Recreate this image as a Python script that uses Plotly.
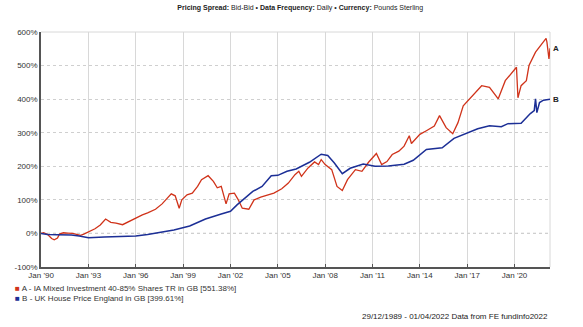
import plotly.graph_objects as go

# Series A - IA Mixed Investment 40-85% Shares TR in GB (cumulative %)
a_dates = ["1989-12-29","1990-03-01","1990-06-01","1990-09-01","1990-11-01","1991-01-15","1991-03-01","1991-06-01",
           "1991-09-01","1992-01-01","1992-04-01","1992-07-01","1992-09-15","1993-01-01","1993-06-01","1993-10-01",
           "1994-02-01","1994-06-01","1994-10-01","1995-03-01","1995-08-01","1996-01-01","1996-06-01","1996-10-01",
           "1997-04-01","1997-09-01","1997-12-01","1998-04-01","1998-07-01","1998-10-01","1998-12-01","1999-04-01",
           "1999-08-01","1999-12-01","2000-03-01","2000-08-01","2000-12-01","2001-03-01","2001-06-01","2001-09-20",
           "2001-12-01","2002-04-01","2002-07-01","2002-10-01","2003-03-01","2003-07-01","2003-12-01","2004-06-01",
           "2004-10-01","2005-04-01","2005-09-01","2006-02-01","2006-05-01","2006-07-01","2006-12-01","2007-05-01",
           "2007-08-01","2007-10-01","2008-01-01","2008-06-01","2008-10-01","2009-02-01","2009-06-01","2009-12-01",
           "2010-05-01","2010-10-01","2011-04-01","2011-08-01","2011-12-01","2012-04-01","2012-09-01","2013-01-01",
           "2013-05-01","2013-06-20","2014-01-01","2014-06-01","2014-12-01","2015-04-01","2015-09-01","2016-02-01",
           "2016-06-01","2016-10-01","2017-05-01","2017-12-01","2018-06-01","2018-12-20","2019-06-01","2019-12-01",
           "2020-02-15","2020-03-20","2020-06-01","2020-10-01","2020-12-01","2021-05-01","2021-10-01","2021-12-31",
           "2022-01-20","2022-02-15","2022-03-08","2022-04-01"]
a_vals = [0,2,-3,-15,-19,-14,-2,2,
          1,0,-3,-6,-2,4,14,25,
          43,33,31,26,36,45,55,61,
          72,88,100,118,112,75,100,115,
          120,140,160,172,155,136,140,88,
          118,120,100,75,72,100,108,115,
          120,133,150,175,185,170,195,213,
          205,220,205,190,140,128,160,190,
          185,212,238,205,214,235,245,260,
          291,268,295,306,320,351,315,297,
          330,380,410,440,435,401,455,485,
          495,404,440,455,500,540,565,581,
          570,545,520,551.38]

# Series B - UK House Price England in GB (cumulative %)
b_dates = ["1989-12-29","1990-06-01","1991-01-01","1991-12-01","1992-06-01","1993-01-01","1994-01-01","1995-01-01",
           "1996-01-01","1996-10-01","1997-06-01","1998-06-01","1999-06-01","2000-06-01","2001-06-01","2002-01-01",
           "2002-06-01","2003-01-01","2003-06-01","2004-01-01","2004-08-01","2005-01-01","2005-08-01","2006-03-01",
           "2007-01-01","2007-10-01","2008-03-01","2008-08-01","2009-02-01","2009-08-01","2010-06-01","2011-03-01",
           "2012-01-01","2013-01-01","2013-08-01","2014-06-01","2015-06-01","2016-03-01","2017-01-01","2017-09-01",
           "2018-06-01","2019-03-01","2019-08-01","2020-06-01","2021-01-01","2021-04-01","2021-05-01","2021-06-01",
           "2021-08-01","2021-11-01","2022-04-01"]
b_vals = [0,-3,-4,-5,-8,-13,-11,-10,
          -8,-3,2,10,22,43,58,66,
          85,110,125,140,172,173,185,192,
          212,236,232,210,178,194,207,200,
          201,206,218,250,255,283,300,312,
          321,318,327,328,357,366,401,360,
          390,397,399.61]

tick_vals = ["1990-01-01","1993-01-01","1996-01-01","1999-01-01","2002-01-01","2005-01-01",
             "2008-01-01","2011-01-01","2014-01-01","2017-01-01","2020-01-01"]
tick_text = ["Jan '90","Jan '93","Jan '96","Jan '99","Jan '02","Jan '05",
             "Jan '08","Jan '11","Jan '14","Jan '17","Jan '20"]
y_ticks = [-100,0,100,200,300,400,500,600]

RED = "#d0331a"
BLUE = "#1c2f96"
FONT = "Liberation Sans, Arial, sans-serif"

fig = go.Figure()
fig.add_trace(go.Scatter(x=a_dates, y=a_vals, mode="lines", line=dict(color=RED, width=1.3), showlegend=False))
fig.add_trace(go.Scatter(x=b_dates, y=b_vals, mode="lines", line=dict(color=BLUE, width=1.5), showlegend=False))

# end labels
fig.add_annotation(x=a_dates[-1], y=a_vals[-1], text="<b>A</b>", xanchor="left", showarrow=False,
                   xshift=1, font=dict(size=8, color="#222"))
fig.add_annotation(x=b_dates[-1], y=b_vals[-1], text="<b>B</b>", xanchor="left", showarrow=False,
                   xshift=1, font=dict(size=8, color="#222"))

fig.update_layout(
    width=583, height=327,
    margin=dict(l=41, r=33, t=32, b=60),
    paper_bgcolor="white", plot_bgcolor="white",
    font=dict(family=FONT, size=8, color="#333"),
    title=dict(text="<b>Pricing Spread:</b> Bid-Bid • <b>Data Frequency:</b> Daily • <b>Currency:</b> Pounds Sterling",
               x=0.515, xanchor="center", y=0.985, yanchor="top", font=dict(size=7, color="#222")),
    xaxis=dict(type="date", range=["1989-12-29","2022-04-01"], tickvals=tick_vals, ticktext=tick_text,
               showgrid=True, gridcolor="#d8d8d8", gridwidth=1, showline=True, linecolor="#555", linewidth=1.5,
               ticks="inside", ticklen=3, tickcolor="#555", zeroline=False, tickfont=dict(size=8, color="#333")),
    yaxis=dict(range=[-100,600], tickvals=y_ticks, ticktext=[f"{v}%" for v in y_ticks],
               showgrid=True, gridcolor="#cfcfcf", griddash="dot", gridwidth=1,
               showline=True, linecolor="#555", linewidth=1.5, ticks="", zeroline=False,
               tickfont=dict(size=8, color="#333")),
)
fig.add_shape(type="line", xref="paper", yref="y", x0=0, x1=1, y0=0, y1=0,
              line=dict(color="#444", width=1, dash="dot"), layer="below")
fig.add_shape(type="line", xref="paper", yref="paper", x0=1, x1=1, y0=0, y1=1,
              line=dict(color="#d8d8d8", width=1), layer="below")
fig.add_shape(type="line", xref="paper", yref="paper", x0=0, x1=1, y0=1, y1=1,
              line=dict(color="#d8d8d8", width=1), layer="below")

legend_items = [(RED, "A - IA Mixed Investment 40-85% Shares TR in GB [551.38%]"),
                (BLUE, "B - UK House Price England in GB [399.61%]")]
for i, (c, t) in enumerate(legend_items):
    fig.add_annotation(xref="paper", yref="paper", x=-0.055, y=-0.062 - i * 0.043,
                       text=f"<span style='color:{c}'>■</span> {t}", showarrow=False,
                       xanchor="left", yanchor="top", font=dict(size=8, color="#333"))

fig.add_annotation(xref="paper", yref="paper", x=1.0, y=-0.183, xanchor="right", yanchor="top",
                   text="29/12/1989 - 01/04/2022 Data from FE fundinfo2022", showarrow=False,
                   font=dict(size=8, color="#222"))

fig.write_html("out.html")
